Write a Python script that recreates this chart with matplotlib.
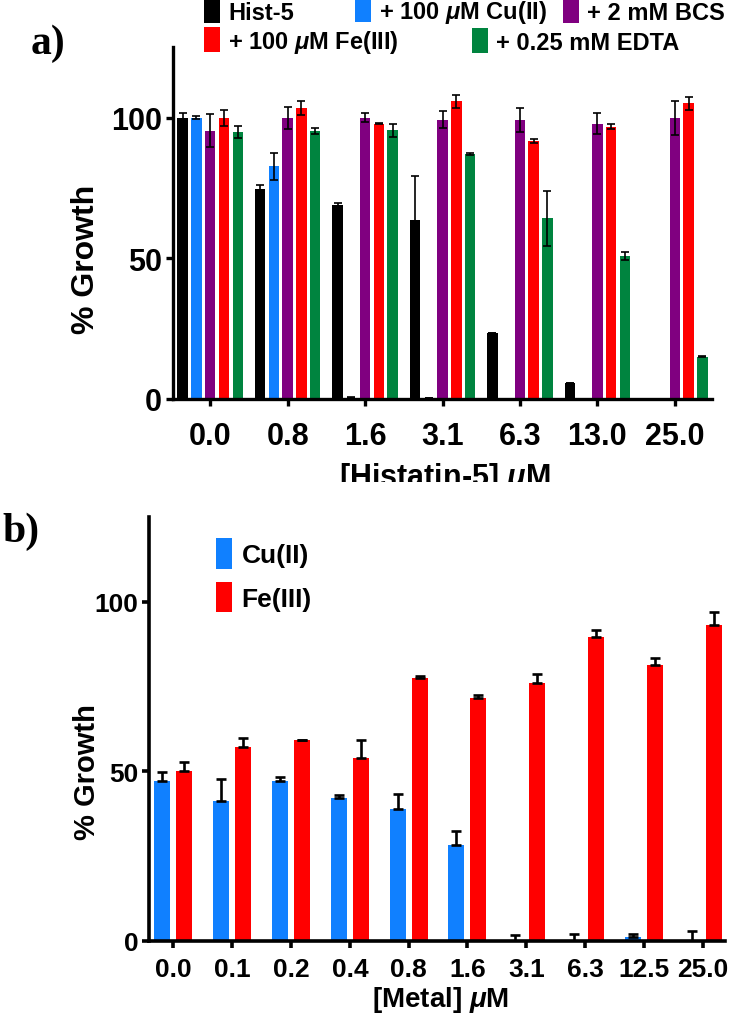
import numpy as np
import matplotlib
matplotlib.use('Agg')
import matplotlib.pyplot as plt
from matplotlib.patches import Patch
from matplotlib.transforms import Bbox, TransformedBbox

plt.rcParams['font.family'] = ['Liberation Sans', 'DejaVu Sans']
plt.rcParams['font.weight'] = 'bold'
plt.rcParams['axes.labelweight'] = 'bold'
plt.rcParams['mathtext.fontset'] = 'custom'
plt.rcParams['mathtext.rm'] = 'Liberation Sans:bold'
plt.rcParams['mathtext.it'] = 'Liberation Sans:italic:bold'

# panel a data: growth (%) vs histatin-5 concentration
hist_conc = ['0.0', '0.8', '1.6', '3.1', '6.3', '13.0', '25.0']
hist5 = [100, 74.5, 68.8, 63.6, 23.4, 5.7, 0]
hist5_err = [1.5, 1.5, 1.0, 15.6, 0, 0, 0]
cu_a = [100, 82.7, 0.5, 0.3, 0, 0, 0]
cu_a_err = [0.5, 4.7, 0.3, 0, 0, 0, 0]
bcs = [95.4, 99.9, 100, 99.3, 99.2, 97.9, 99.9]
bcs_err = [6.0, 3.9, 1.5, 3.1, 4.4, 3.8, 6.0]
fe_a = [100, 103.4, 97.9, 105.8, 91.7, 96.8, 105.1]
fe_a_err = [2.8, 2.4, 0.3, 2.2, 0.6, 0.8, 2.3]
edta = [94.9, 95.3, 95.5, 87.1, 64.2, 50.8, 15.0]
edta_err = [2.0, 1.0, 2.3, 0.3, 9.7, 1.3, 0.2]

# panel b data: growth (%) vs metal concentration
metal_conc = ['0.0', '0.1', '0.2', '0.4', '0.8', '1.6', '3.1', '6.3', '12.5', '25.0']
cu_b = [47.1, 41.3, 47.1, 42.1, 38.8, 28.3, 0, 0, 1.1, 0]
cu_b_err = [2.5, 6.3, 1.2, 1.0, 4.4, 4.0, 1.8, 2.0, 0.9, 3.0]
fe_b = [49.9, 57.2, 59.1, 54.0, 77.3, 71.5, 75.9, 89.5, 81.4, 93.2]
fe_b_err = [2.8, 2.5, 0.2, 5.1, 0.7, 0.9, 2.6, 2.0, 2.0, 3.7]

BLACK = '#000000'
BLUE = '#1080FF'
PURPLE = '#800080'
RED = '#FF0000'
GREEN = '#00843F'

W, H = 730, 1020


def fx(px):
    return px / W


def fy(py):
    return 1 - py / H


def style_axes(ax, lw, tick_size, xpad):
    ax.spines[['top', 'right']].set_visible(False)
    for s in ['left', 'bottom']:
        ax.spines[s].set_linewidth(lw)
    ax.tick_params(direction='out', length=5, width=lw, labelsize=tick_size, pad=3)
    ax.tick_params(axis='x', pad=xpad)
    ax.set_ylim(0, 125)
    ax.set_yticks([0, 50, 100])


def add_key(fig, color, label, x, y, size, hl, hh, pad):
    fig.legend(handles=[Patch(facecolor=color, edgecolor='none')], labels=[label],
               loc='center left', bbox_to_anchor=(fx(x), fy(y)), frameon=False,
               fontsize=size, handlelength=hl, handleheight=hh, handletextpad=pad,
               borderpad=0, borderaxespad=0)


fig = plt.figure(figsize=(7.3, 10.2), dpi=100)

# ---- panel a ----
ax_a = fig.add_axes([fx(173.3), fy(400), fx(711.7 - 173.3), (400 - 48.3) / H])
xa = np.arange(len(hist_conc))
step, bw = 0.178, 0.136
series_a = [(hist5, hist5_err, BLACK), (cu_a, cu_a_err, BLUE), (bcs, bcs_err, PURPLE),
            (fe_a, fe_a_err, RED), (edta, edta_err, GREEN)]
for i, (vals, err, col) in enumerate(series_a):
    ax_a.bar(xa + (i - 2) * step, vals, bw, color=col, yerr=err, capsize=2.8,
             error_kw=dict(elinewidth=1.2, capthick=1.2, ecolor='black'))
style_axes(ax_a, 2.4, 22, 11)
ax_a.set_xlim(-0.477, 6.477)
ax_a.set_xticks(xa)
ax_a.set_xticklabels(hist_conc)
ax_a.set_ylabel('% Growth', fontsize=23, va='center')
ax_a.yaxis.set_label_coords((86 - 173.3) / 538.4, 0.4)
ax_a.set_xlabel(r'[Histatin-5] $\mu$M', fontsize=22, va='baseline')
ax_a.xaxis.set_label_coords((445 - 173.3) / 538.4, -(486 - 400) / 351.7)
lab = ax_a.xaxis.label
lab.set_clip_box(TransformedBbox(Bbox.from_extents(0, fy(483), 1, 1), fig.transFigure))
lab.set_clip_on(True)

add_key(fig, BLACK, 'Hist-5', 204, 12.5, 17, 0.68, 1.2, 0.34)
add_key(fig, BLUE, r'+ 100 $\mu$M Cu(II)', 355, 12.5, 17, 0.68, 1.2, 0.34)
add_key(fig, PURPLE, '+ 2 mM BCS', 563, 12.5, 17, 0.68, 1.2, 0.34)
add_key(fig, RED, r'+ 100 $\mu$M Fe(III)', 204, 42, 17, 0.68, 1.2, 0.34)
add_key(fig, GREEN, '+ 0.25 mM EDTA', 472, 42, 17, 0.68, 1.2, 0.34)

fig.text(fx(48), fy(44), 'a)', fontsize=30, family='Liberation Serif',
         weight='bold', ha='center', va='center')

# ---- panel b ----
ax_b = fig.add_axes([fx(149.3), fy(941.7), fx(725 - 149.3), (941.7 - 517.7) / H])
xb = np.arange(len(metal_conc))
off, bw_b = 0.187, 0.27
ax_b.bar(xb - off, cu_b, bw_b, color=BLUE, yerr=[np.zeros(len(cu_b)), cu_b_err],
         capsize=3.6, error_kw=dict(elinewidth=1.9, capthick=1.9, ecolor='black'))
ax_b.bar(xb + off, fe_b, bw_b, color=RED, yerr=[np.zeros(len(fe_b)), fe_b_err],
         capsize=3.6, error_kw=dict(elinewidth=1.9, capthick=1.9, ecolor='black'))
style_axes(ax_b, 2.6, 19, 7)
ax_b.set_xlim(-0.41, 9.38)
ax_b.set_xticks(xb)
ax_b.set_xticklabels(metal_conc)
ax_b.set_ylabel('% Growth', fontsize=21, va='center')
ax_b.yaxis.set_label_coords((87 - 149.3) / 575.7, 0.4)
ax_b.set_xlabel(r'[Metal] $\mu$M', fontsize=20, va='center')
ax_b.xaxis.set_label_coords((441 - 149.3) / 575.7, -(1000 - 941.7) / 424)

add_key(fig, BLUE, 'Cu(II)', 216, 554.7, 19, 0.61, 1.43, 0.36)
add_key(fig, RED, 'Fe(III)', 216, 598, 19, 0.61, 1.43, 0.36)

fig.text(fx(21), fy(532), 'b)', fontsize=30, family='Liberation Serif',
         weight='bold', ha='center', va='center')

fig.savefig('out.png', dpi=100)
